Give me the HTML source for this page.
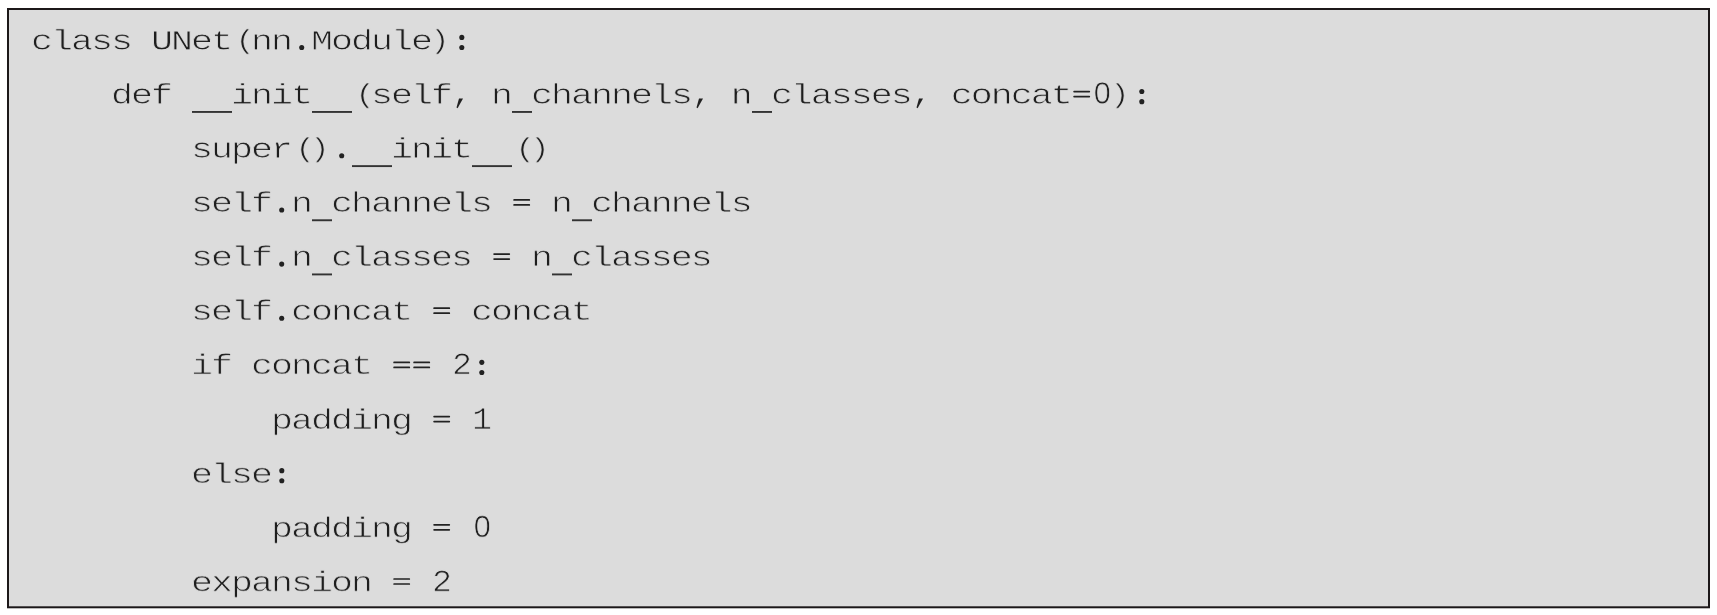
<!DOCTYPE html>
<html>
<head>
<meta charset="utf-8">
<style>
html,body{margin:0;padding:0;background:#fff;}
body{width:1717px;height:615px;overflow:hidden;position:relative;}
#box{position:absolute;left:8px;top:9px;width:1701px;height:598px;background:#dcdcdc;overflow:hidden;}
pre{position:absolute;left:23.00px;top:5px;margin:0;font-family:"Liberation Mono",monospace;font-size:36.666px;line-height:70.0829px;color:#1e1e1e;-webkit-text-stroke:0.9px #dcdcdc;paint-order:fill stroke;white-space:pre;letter-spacing:-2.0034px;transform:translateY(0.850px) scaleY(0.7727);transform-origin:0 0;will-change:transform;}
pre u{text-decoration:none;color:transparent;-webkit-text-stroke:0;}
pre s,pre b{text-decoration:none;font-weight:normal;display:inline-block;width:20px;line-height:0;vertical-align:baseline;letter-spacing:0;}
pre s{transform-origin:0 -14.74px;}
pre s.l{transform:translate(4.20px,0.91px) scale(0.9091,0.941);}
pre s.r{transform:translate(-1.20px,0.91px) scale(0.9091,0.941);}
pre b{font-family:"Liberation Sans",sans-serif;text-align:center;transform:translateX(1.00px) scale(0.8364,1.09);transform-origin:50% 12.65px;}
pre b.g{font-family:"Liberation Mono",monospace;text-align:left;transform:translateX(1.00px) scale(0.9091,1.10);transform-origin:0 9.90px;}
svg{position:absolute;left:0;top:0;}
</style>
</head>
<body>
<div id="box"><pre>class UNet<s class="l">(</s>nn<u>.</u>Module<s class="r">)</s><u>:</u>
    def <u>_</u><u>_</u>init<u>_</u><u>_</u><s class="l">(</s>self<u>,</u> n<u>_</u>channels<u>,</u> n<u>_</u>classes<u>,</u> concat<u>=</u><b>0</b><s class="r">)</s><u>:</u>
        super<s class="l">(</s><s class="r">)</s><u>.</u><u>_</u><u>_</u>init<u>_</u><u>_</u><s class="l">(</s><s class="r">)</s>
        self<u>.</u>n<u>_</u>channels <u>=</u> n<u>_</u>channels
        self<u>.</u>n<u>_</u>classes <u>=</u> n<u>_</u>classes
        self<u>.</u>concat <u>=</u> concat
        if concat <u>=</u><u>=</u> <b class="g">2</b><u>:</u>
            padding <u>=</u> <b class="g">1</b>
        else<u>:</u>
            padding <u>=</u> <b>0</b>
        expansion <u>=</u> <b class="g">2</b></pre></div>
<svg width="1717" height="615" viewBox="0 0 1717 615" fill="#222">
<rect x="8" y="9" width="1701" height="598.3" fill="none" stroke="#1c1819" stroke-width="2"/>
<circle cx="301.70" cy="47.50" r="2.55"/>
<circle cx="461.80" cy="47.50" r="2.55"/>
<circle cx="461.80" cy="37.40" r="2.55"/>
<rect x="192.00" y="111.00" width="20.0" height="1.9" fill="#333"/>
<rect x="212.00" y="111.00" width="20.0" height="1.9" fill="#333"/>
<rect x="312.00" y="111.00" width="20.0" height="1.9" fill="#333"/>
<rect x="332.00" y="111.00" width="20.0" height="1.9" fill="#333"/>
<polygon points="459.00,98.50 463.00,98.50 457.60,108.31 456.50,107.50"/>
<rect x="512.00" y="111.00" width="20.0" height="1.9" fill="#333"/>
<polygon points="699.00,98.50 703.00,98.50 697.60,108.31 696.50,107.50"/>
<rect x="752.00" y="111.00" width="20.0" height="1.9" fill="#333"/>
<polygon points="919.00,98.50 923.00,98.50 917.60,108.31 916.50,107.50"/>
<line x1="1074.10" y1="91.61" x2="1089.30" y2="91.61" stroke="#222" stroke-width="1.7" stroke-linecap="round"/>
<line x1="1074.10" y1="96.61" x2="1089.30" y2="96.61" stroke="#222" stroke-width="1.7" stroke-linecap="round"/>
<circle cx="1141.80" cy="101.66" r="2.55"/>
<circle cx="1141.80" cy="91.56" r="2.55"/>
<circle cx="341.70" cy="155.81" r="2.55"/>
<rect x="352.00" y="165.16" width="20.0" height="1.9" fill="#333"/>
<rect x="372.00" y="165.16" width="20.0" height="1.9" fill="#333"/>
<rect x="472.00" y="165.16" width="20.0" height="1.9" fill="#333"/>
<rect x="492.00" y="165.16" width="20.0" height="1.9" fill="#333"/>
<circle cx="281.70" cy="209.97" r="2.55"/>
<rect x="312.00" y="219.31" width="20.0" height="1.9" fill="#333"/>
<line x1="514.10" y1="199.91" x2="529.30" y2="199.91" stroke="#222" stroke-width="1.7" stroke-linecap="round"/>
<line x1="514.10" y1="204.91" x2="529.30" y2="204.91" stroke="#222" stroke-width="1.7" stroke-linecap="round"/>
<rect x="572.00" y="219.31" width="20.0" height="1.9" fill="#333"/>
<circle cx="281.70" cy="264.12" r="2.55"/>
<rect x="312.00" y="273.47" width="20.0" height="1.9" fill="#333"/>
<line x1="494.10" y1="254.07" x2="509.30" y2="254.07" stroke="#222" stroke-width="1.7" stroke-linecap="round"/>
<line x1="494.10" y1="259.07" x2="509.30" y2="259.07" stroke="#222" stroke-width="1.7" stroke-linecap="round"/>
<rect x="552.00" y="273.47" width="20.0" height="1.9" fill="#333"/>
<circle cx="281.70" cy="318.27" r="2.55"/>
<line x1="434.10" y1="308.22" x2="449.30" y2="308.22" stroke="#222" stroke-width="1.7" stroke-linecap="round"/>
<line x1="434.10" y1="313.22" x2="449.30" y2="313.22" stroke="#222" stroke-width="1.7" stroke-linecap="round"/>
<line x1="394.10" y1="362.38" x2="409.30" y2="362.38" stroke="#222" stroke-width="1.7" stroke-linecap="round"/>
<line x1="394.10" y1="367.38" x2="409.30" y2="367.38" stroke="#222" stroke-width="1.7" stroke-linecap="round"/>
<line x1="414.10" y1="362.38" x2="429.30" y2="362.38" stroke="#222" stroke-width="1.7" stroke-linecap="round"/>
<line x1="414.10" y1="367.38" x2="429.30" y2="367.38" stroke="#222" stroke-width="1.7" stroke-linecap="round"/>
<circle cx="481.80" cy="372.43" r="2.55"/>
<circle cx="481.80" cy="362.33" r="2.55"/>
<line x1="434.10" y1="416.54" x2="449.30" y2="416.54" stroke="#222" stroke-width="1.7" stroke-linecap="round"/>
<line x1="434.10" y1="421.54" x2="449.30" y2="421.54" stroke="#222" stroke-width="1.7" stroke-linecap="round"/>
<circle cx="281.80" cy="480.74" r="2.55"/>
<circle cx="281.80" cy="470.64" r="2.55"/>
<line x1="434.10" y1="524.85" x2="449.30" y2="524.85" stroke="#222" stroke-width="1.7" stroke-linecap="round"/>
<line x1="434.10" y1="529.85" x2="449.30" y2="529.85" stroke="#222" stroke-width="1.7" stroke-linecap="round"/>
<line x1="394.10" y1="579.00" x2="409.30" y2="579.00" stroke="#222" stroke-width="1.7" stroke-linecap="round"/>
<line x1="394.10" y1="584.00" x2="409.30" y2="584.00" stroke="#222" stroke-width="1.7" stroke-linecap="round"/>
</svg>
</body>
</html>
